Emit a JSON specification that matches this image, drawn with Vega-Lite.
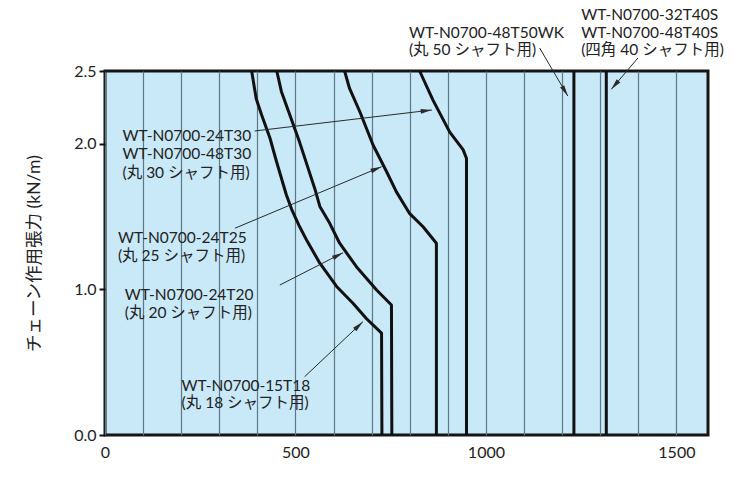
{
  "$schema": "https://vega.github.io/schema/vega-lite/v6.json",
  "width": 603,
  "height": 364,
  "autosize": {"type": "none"},
  "padding": {"left": 105, "top": 71, "right": 25, "bottom": 62},
  "background": "white",
  "config": {
    "font": "Lato, 'Noto Sans CJK JP', sans-serif",
    "view": {"fill": "#c9e9f8", "stroke": "#151515", "strokeWidth": 3},
    "axisX": {
      "grid": true,
      "gridColor": "#5e7786",
      "gridWidth": 1.2,
      "gridOpacity": 1,
      "ticks": false,
      "domain": false,
      "labelFontSize": 16,
      "labelColor": "#222",
      "labelPadding": 9,
      "labelFlush": false,
      "labelOverlap": false
    },
    "axisY": {
      "titleFontSize": 17.5,
      "titleFontWeight": "normal",
      "titleColor": "#222",
      "titlePadding": 30,
      "grid": false,
      "domain": false,
      "tickSize": 6,
      "tickColor": "#111",
      "tickWidth": 2,
      "labelFontSize": 16,
      "labelColor": "#222",
      "labelPadding": 3,
      "labelFlush": false
    }
  },
  "datasets": {
    "curves": [
      {"s": "15T18", "i": 1, "x": 385, "y": 2.5},
      {"s": "15T18", "i": 2, "x": 397, "y": 2.31},
      {"s": "15T18", "i": 3, "x": 411, "y": 2.2},
      {"s": "15T18", "i": 4, "x": 433, "y": 2.04},
      {"s": "15T18", "i": 5, "x": 450, "y": 1.88},
      {"s": "15T18", "i": 6, "x": 476, "y": 1.65},
      {"s": "15T18", "i": 7, "x": 490, "y": 1.55},
      {"s": "15T18", "i": 8, "x": 511, "y": 1.43},
      {"s": "15T18", "i": 9, "x": 531, "y": 1.33},
      {"s": "15T18", "i": 10, "x": 564, "y": 1.18},
      {"s": "15T18", "i": 11, "x": 608, "y": 1.02},
      {"s": "15T18", "i": 12, "x": 651, "y": 0.905},
      {"s": "15T18", "i": 13, "x": 686, "y": 0.8},
      {"s": "15T18", "i": 14, "x": 726, "y": 0.7},
      {"s": "15T18", "i": 15, "x": 727, "y": 0},
      {"s": "24T20", "i": 1, "x": 451, "y": 2.5},
      {"s": "24T20", "i": 2, "x": 463, "y": 2.36},
      {"s": "24T20", "i": 3, "x": 485, "y": 2.2},
      {"s": "24T20", "i": 4, "x": 511, "y": 2.01},
      {"s": "24T20", "i": 5, "x": 551, "y": 1.69},
      {"s": "24T20", "i": 6, "x": 564, "y": 1.57},
      {"s": "24T20", "i": 7, "x": 590, "y": 1.454},
      {"s": "24T20", "i": 8, "x": 616, "y": 1.317},
      {"s": "24T20", "i": 9, "x": 660, "y": 1.156},
      {"s": "24T20", "i": 10, "x": 713, "y": 0.996},
      {"s": "24T20", "i": 11, "x": 752, "y": 0.893},
      {"s": "24T20", "i": 12, "x": 753, "y": 0},
      {"s": "24T25", "i": 1, "x": 629, "y": 2.5},
      {"s": "24T25", "i": 2, "x": 642, "y": 2.38},
      {"s": "24T25", "i": 3, "x": 669, "y": 2.22},
      {"s": "24T25", "i": 4, "x": 704, "y": 1.99},
      {"s": "24T25", "i": 5, "x": 739, "y": 1.81},
      {"s": "24T25", "i": 6, "x": 765, "y": 1.67},
      {"s": "24T25", "i": 7, "x": 800, "y": 1.52},
      {"s": "24T25", "i": 8, "x": 835, "y": 1.43},
      {"s": "24T25", "i": 9, "x": 870, "y": 1.317},
      {"s": "24T25", "i": 10, "x": 870, "y": 0},
      {"s": "24T30", "i": 1, "x": 826, "y": 2.5},
      {"s": "24T30", "i": 2, "x": 861, "y": 2.3},
      {"s": "24T30", "i": 3, "x": 905, "y": 2.08},
      {"s": "24T30", "i": 4, "x": 940, "y": 1.96},
      {"s": "24T30", "i": 5, "x": 949, "y": 1.9},
      {"s": "24T30", "i": 6, "x": 949, "y": 0},
      {"s": "48T50WK", "i": 1, "x": 1231, "y": 2.5},
      {"s": "48T50WK", "i": 2, "x": 1231, "y": 0},
      {"s": "32T40S", "i": 1, "x": 1316, "y": 2.5},
      {"s": "32T40S", "i": 2, "x": 1316, "y": 0}
    ],
    "arrows": [
      {"a": "24T30", "x": 393, "y": 2.088, "x2": 858, "y2": 2.232},
      {"a": "24T25", "x": 341, "y": 1.42, "x2": 726, "y2": 1.843},
      {"a": "24T20", "x": 459, "y": 1.03, "x2": 625, "y2": 1.252},
      {"a": "15T18", "x": 524, "y": 0.4, "x2": 677, "y2": 0.778},
      {"a": "48T50WK", "x": 1141, "y": 2.658, "x2": 1215, "y2": 2.328},
      {"a": "32T40S", "x": 1399, "y": 2.589, "x2": 1329, "y2": 2.374}
    ],
    "labels": [
      {"x": 46, "y": 2.054, "t": "WT-N0700-24T30"},
      {"x": 46, "y": 1.927, "t": "WT-N0700-48T30"},
      {"x": 46, "y": 1.797, "t": "(丸 30 シャフト用)"},
      {"x": 34, "y": 1.356, "t": "WT-N0700-24T25"},
      {"x": 34, "y": 1.226, "t": "(丸 25 シャフト用)"},
      {"x": 52, "y": 0.962, "t": "WT-N0700-24T20"},
      {"x": 52, "y": 0.836, "t": "(丸 20 シャフト用)"},
      {"x": 201, "y": 0.337, "t": "WT-N0700-15T18"},
      {"x": 201, "y": 0.218, "t": "(丸 18 シャフト用)"},
      {"x": 798, "y": 2.763, "t": "WT-N0700-48T50WK"},
      {"x": 798, "y": 2.644, "t": "(丸 50 シャフト用)"},
      {"x": 1250, "y": 2.885, "t": "WT-N0700-32T40S"},
      {"x": 1250, "y": 2.763, "t": "WT-N0700-48T40S"},
      {"x": 1250, "y": 2.644, "t": "(四角 40 シャフト用)"}
    ]
  },
  "layer": [
    {
      "data": {"name": "curves"},
      "mark": {"type": "line", "color": "#111", "strokeWidth": 3, "strokeJoin": "round"},
      "encoding": {
        "x": {
          "field": "x", "type": "quantitative",
          "scale": {"domain": [0, 1583], "nice": false, "zero": false},
          "axis": {
            "values": [0, 100, 200, 300, 400, 500, 600, 700, 800, 900, 1000, 1100, 1200, 1300, 1400, 1500],
            "labelExpr": "datum.value % 500 === 0 ? datum.label : ''",
            "format": "d",
            "title": null
          }
        },
        "y": {
          "field": "y", "type": "quantitative",
          "scale": {"domain": [0, 2.5], "nice": false},
          "axis": {"values": [0, 1, 2, 2.5], "format": ".1f", "title": "チェーン作用張力 (kN/m)"}
        },
        "detail": {"field": "s"},
        "order": {"field": "i", "type": "quantitative"}
      }
    },
    {
      "data": {"name": "arrows"},
      "mark": {"type": "rule", "color": "#2a2a2a", "strokeWidth": 1},
      "encoding": {
        "x": {
          "field": "x", "type": "quantitative",
          "scale": {"domain": [0, 1583], "nice": false, "zero": false},
          "axis": {
            "values": [0, 100, 200, 300, 400, 500, 600, 700, 800, 900, 1000, 1100, 1200, 1300, 1400, 1500],
            "labelExpr": "datum.value % 500 === 0 ? datum.label : ''",
            "format": "d",
            "title": null
          }
        },
        "y": {
          "field": "y", "type": "quantitative",
          "scale": {"domain": [0, 2.5], "nice": false},
          "axis": {"values": [0, 1, 2, 2.5], "format": ".1f", "title": "チェーン作用張力 (kN/m)"}
        },
        "x2": {"field": "x2"},
        "y2": {"field": "y2"}
      }
    },
    {
      "data": {"name": "arrows"},
      "transform": [
        {"calculate": "atan2((datum.x2 - datum.x) * 603 / 1583, (datum.y2 - datum.y) * 364 / 2.5) * 180 / PI", "as": "ang"}
      ],
      "mark": {"type": "point", "shape": "M0,0L0.6,2.8L-0.6,2.8Z", "filled": true, "color": "#2a2a2a", "opacity": 1, "size": 64, "strokeWidth": 0},
      "encoding": {
        "x": {
          "field": "x2", "type": "quantitative",
          "scale": {"domain": [0, 1583], "nice": false, "zero": false},
          "axis": {
            "values": [0, 100, 200, 300, 400, 500, 600, 700, 800, 900, 1000, 1100, 1200, 1300, 1400, 1500],
            "labelExpr": "datum.value % 500 === 0 ? datum.label : ''",
            "format": "d",
            "title": null
          }
        },
        "y": {
          "field": "y2", "type": "quantitative",
          "scale": {"domain": [0, 2.5], "nice": false},
          "axis": {"values": [0, 1, 2, 2.5], "format": ".1f", "title": "チェーン作用張力 (kN/m)"}
        },
        "angle": {"field": "ang", "type": "quantitative", "scale": null}
      }
    },
    {
      "data": {"name": "labels"},
      "mark": {"type": "text", "align": "left", "baseline": "middle", "fontSize": 15.5, "color": "#222"},
      "encoding": {
        "x": {
          "field": "x", "type": "quantitative",
          "scale": {"domain": [0, 1583], "nice": false, "zero": false},
          "axis": {
            "values": [0, 100, 200, 300, 400, 500, 600, 700, 800, 900, 1000, 1100, 1200, 1300, 1400, 1500],
            "labelExpr": "datum.value % 500 === 0 ? datum.label : ''",
            "format": "d",
            "title": null
          }
        },
        "y": {
          "field": "y", "type": "quantitative",
          "scale": {"domain": [0, 2.5], "nice": false},
          "axis": {"values": [0, 1, 2, 2.5], "format": ".1f", "title": "チェーン作用張力 (kN/m)"}
        },
        "text": {"field": "t"}
      }
    }
  ]
}
